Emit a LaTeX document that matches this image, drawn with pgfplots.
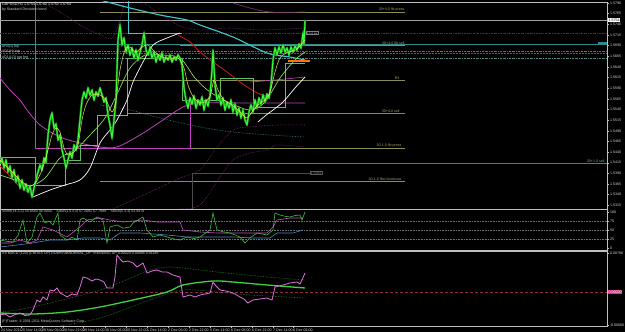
\documentclass[border=0pt]{standalone}
\usepackage{fontspec}
\setmainfont{Liberation Sans}
\usepackage{pgfplots}
\pgfplotsset{compat=1.18}
\definecolor{oliv}{HTML}{8C8C55}
\definecolor{tealx}{HTML}{2E8C8C}
\definecolor{cyanx}{HTML}{40C8D0}
\definecolor{pricegreen}{HTML}{3CFF3C}
\definecolor{pricedark}{HTML}{1E8C1E}
\definecolor{yel}{HTML}{E8E850}
\definecolor{lgreen}{HTML}{90F060}
\definecolor{boxgreen}{HTML}{60C060}
\definecolor{redx}{HTML}{C81E1E}
\definecolor{mag}{HTML}{C040C0}
\definecolor{dpurp}{HTML}{7A2A7A}
\definecolor{gridg}{HTML}{A0A0A0}
\definecolor{stg}{HTML}{40C040}
\definecolor{stm}{HTML}{C050C0}
\definecolor{stb}{HTML}{4A8AC0}
\definecolor{macdm}{HTML}{E070E0}
\definecolor{macdg}{HTML}{40D040}
\definecolor{macdd}{HTML}{2A8A2A}
\definecolor{pinkx}{HTML}{E0308A}
\definecolor{zerol}{HTML}{8A2A48}
\newcommand{\lbl}{\fontsize{3.6}{4}\selectfont}
\pgfplotsset{mt/.style={scale only axis, width=607pt, xmin=0, xmax=607,
  axis line style={draw=white!75!black, line width=0.7pt},
  tick style={draw=white!75!black, line width=0.4pt},
  ytick pos=right, yticklabel pos=right, xtick pos=bottom,
  tick align=outside, major tick length=2pt,
  ticklabel style={font=\lbl, text=white!85!black, inner sep=0.5pt},
  yticklabel style={anchor=west, xshift=0.3pt},
  scaled ticks=false, clip mode=individual}}
\begin{document}
\begin{tikzpicture}
\path[use as bounding box] (0pt,0pt) rectangle (625pt,332pt);
\fill[black] (0pt,0pt) rectangle (625pt,332pt);
% ---------------- main price panel ----------------
\begin{axis}[mt, at={(0pt,123pt)}, anchor=south west, height=207pt,
  ymin=2, ymax=209, y dir=reverse, xtick=\empty,
  ytick={3,13.65,24.3,34.95,45.6,56.25,66.9,77.55,88.2,98.85,109.5,120.15,130.8,141.45,152.1,162.75,173.4,184.05,194.7,205.35},
  yticklabels={1.5790,1.5765,1.5740,1.5715,1.5690,1.5665,1.5640,1.5615,1.5590,1.5565,1.5540,1.5515,1.5490,1.5465,1.5440,1.5415,1.5390,1.5365,1.5340,1.5315}]
% horizontal level lines
\addplot[gridg, line width=0.6pt] coordinates {(0,20) (607,20)};
\addplot[redx!70!black, line width=0.6pt, dash pattern=on 2pt off 1pt on 0.5pt off 1pt] coordinates {(0,33) (607,33)};
\addplot[tealx, line width=0.7pt] coordinates {(0,44) (607,44)};
\addplot[boxgreen!70!black, line width=0.6pt, dash pattern=on 2pt off 1pt on 0.5pt off 1pt] coordinates {(0,51) (607,51)};
\addplot[boxgreen!60!black, line width=0.6pt, dash pattern=on 2pt off 1pt] coordinates {(0,53) (607,53)};
\addplot[tealx!60!gray, line width=0.5pt, dash pattern=on 2pt off 1pt on 0.5pt off 1pt] coordinates {(0,58) (607,58)};
\addplot[tealx, line width=0.7pt] coordinates {(0,163) (607,163)};
\addplot[oliv, line width=0.6pt] coordinates {(100,12) (405,12)};
\addplot[oliv, line width=0.6pt] coordinates {(180,45) (405,45)};
\addplot[oliv, line width=0.6pt] coordinates {(100,80) (405,80)};
\addplot[oliv, line width=0.6pt] coordinates {(128,113) (405,113)};
\addplot[oliv, line width=0.6pt] coordinates {(190,148) (405,148)};
\addplot[oliv, line width=0.6pt] coordinates {(100,181) (405,181)};
\addplot[gray!60!black, line width=0.6pt] coordinates {(192,209) (192,173) (310,173)};
% magenta structure
\addplot[mag, line width=0.8pt] coordinates {(35,0) (35,148) (190,148) (190,100)};
\addplot[mag, line width=0.8pt, smooth] coordinates {(0,78) (10,90) (20,100) (27,110) (40,125) (60,137) (80,143) (100,147) (117,147) (140,135) (160,122) (183,107) (200,103) (250,103) (305,103)};
\addplot[mag, line width=0.6pt, smooth] coordinates {(250,82) (275,80) (305,77)};
% dotted envelopes
\addplot[dpurp, line width=0.6pt, dash pattern=on 0.6pt off 1pt, smooth] coordinates {(38,0) (60,12) (80,25) (100,35) (112,38) (120,20) (125,0)};
\addplot[dpurp, line width=0.6pt, dash pattern=on 0.6pt off 1pt, smooth] coordinates {(140,0) (160,14) (180,26) (200,30) (230,28) (260,30) (305,28)};
\addplot[dpurp, line width=0.7pt, smooth] coordinates {(233,3) (250,8) (270,12) (305,12)};
\addplot[dpurp, line width=0.6pt, dash pattern=on 0.6pt off 1pt, smooth] coordinates {(113,209) (150,192) (180,178) (200,170) (215,150) (233,130) (250,127) (277,125) (305,125)};
\addplot[dpurp, line width=0.6pt, dash pattern=on 0.6pt off 1pt, smooth] coordinates {(180,209) (200,205) (220,177) (233,160) (250,153) (267,150) (277,145) (305,147)};
\addplot[tealx, line width=0.6pt, dash pattern=on 0.6pt off 1pt, smooth] coordinates {(100,105) (130,110) (160,118) (200,127) (233,132) (270,135) (305,137)};
% cyan
\addplot[cyanx, line width=0.8pt] coordinates {(128,0) (128,33) (182,33)};
\addplot[cyanx, line width=1.1pt, smooth] coordinates {(100,0) (130,8) (160,15) (187,20) (200,25) (233,37) (267,53) (290,57) (305,60)};
% red
\addplot[redx, line width=0.8pt, smooth] coordinates {(0,166) (8,174) (16,183) (24,190) (30,193)};
\addplot[redx, line width=0.8pt, smooth] coordinates {(178,35) (190,42) (200,52) (213,62) (227,72) (240,82) (252,90) (262,95) (270,97)};
% boxes (stepped)
\addplot[boxgreen, line width=0.5pt, const plot] coordinates {(0,157) (35,185) (65,160) (80,145) (97,115) (127,58) (182,100) (220,78) (253,107) (285,63) (305,63)};
% white
\addplot[white, line width=0.7pt, smooth] coordinates {(33,197) (50,190) (65,185) (80,180) (90,168) (100,143) (110,130) (117,120) (127,100) (133,82) (143,62) (153,45) (167,38) (180,33)};
\addplot[white, line width=0.7pt, smooth] coordinates {(258,122) (265,116) (273,110) (283,102) (295,88) (305,77)};
% light green MA
\addplot[lgreen, line width=0.6pt, smooth] coordinates {(0,175) (15,180) (30,186) (45,178) (60,158) (75,150) (90,135) (105,118) (118,92) (130,68) (145,55) (160,55) (180,58) (195,78) (210,92) (230,103) (250,110) (265,102) (280,78) (295,60) (305,52)};
% price (dark underlay for bar bodies, then bright close line)
\pgfplotstableread{
x y
0 163
2 158
4 168
6 160
8 172
10 166
12 178
14 170
16 182
18 176
20 188
22 180
24 190
26 184
28 192
30 186
32 197
34 188
36 180
38 172
40 165
42 170
44 158
46 162
48 135
50 120
52 113
54 128
56 124
58 140
60 135
62 150
64 158
66 168
68 160
70 152
72 158
74 145
76 150
78 140
80 120
82 100
84 92
86 98
88 88
90 95
92 90
94 100
96 92
98 96
100 88
102 95
104 102
106 98
108 115
110 125
112 138
114 120
116 100
118 40
120 25
122 45
124 38
126 52
128 45
130 55
132 48
134 58
136 50
138 60
140 52
142 45
144 33
146 50
148 55
150 48
152 58
154 52
156 62
158 55
160 60
162 53
164 62
166 57
168 60
170 55
172 62
174 57
176 60
178 55
180 58
182 65
184 88
186 100
188 108
190 98
192 104
194 96
196 108
198 100
200 105
202 97
204 110
206 100
208 106
210 96
212 70
213 50
215 85
217 100
219 95
221 105
223 98
225 110
227 102
229 108
231 100
233 112
235 104
237 115
239 108
241 118
243 110
245 120
247 125
249 112
251 105
253 112
255 100
257 108
259 98
261 104
263 95
265 102
267 94
269 98
271 85
273 60
275 48
277 55
279 47
281 53
283 45
285 52
287 48
289 55
291 47
293 52
295 46
297 50
299 44
301 48
303 33
304 45
305 20
}\pricetab
\addplot[pricedark, line width=2.2pt, line join=round] table[x=x,y=y] {\pricetab};
\addplot[pricegreen, line width=0.9pt] table[x=x,y=y] {\pricetab};
% yellow fast MA
\addplot[yel, line width=0.5pt, smooth] coordinates {(0,160) (8,168) (15,175) (22,182) (30,186) (36,182) (42,170) (48,150) (52,135) (56,128) (60,132) (64,148) (68,155) (74,152) (78,145) (82,120) (86,105) (92,95) (100,95) (106,100) (112,112) (116,100) (120,70) (125,50) (130,47) (136,52) (142,47) (148,45) (155,52) (162,57) (170,59) (178,58) (184,68) (188,85) (194,98) (202,103) (210,96) (214,80) (218,90) (224,100) (232,105) (240,112) (247,118) (252,112) (258,105) (265,100) (270,92) (275,72) (280,58) (288,52) (296,50) (305,40)};
% orange marker bar
\addplot[orange!90!red, line width=2.4pt] coordinates {(288,61) (310,61)};
% texts
\node[anchor=north west, font=\lbl, text=white, inner sep=0] at (axis cs:2,3) {GBPUSD,H1 1.5754 1.5762 1.5752 1.5754};
\node[anchor=north west, font=\lbl, text=white!80!black, inner sep=0] at (axis cs:2,8) {by Standard Deviation band};
\node[anchor=west, font=\lbl, text=white!80!black, inner sep=0] at (axis cs:2,47) {\#H4(1) top};
\node[anchor=west, font=\lbl, text=white!80!black, inner sep=0] at (axis cs:2,52) {\#D1(H) top};
\node[anchor=west, font=\lbl, text=white!80!black, inner sep=0] at (axis cs:2,57.5) {\#D1(LO) top fmt};
\node[anchor=south east, font=\lbl, text=oliv!80!white, inner sep=0.3pt] at (axis cs:405,12) {30+4.0 fib press};
\node[anchor=south east, font=\lbl, text=oliv!80!white, inner sep=0.3pt] at (axis cs:405,45) {30+4.0 fib sell};
\node[anchor=south east, font=\lbl, text=oliv!80!white, inner sep=0.3pt] at (axis cs:400,80) {R3};
\node[anchor=south east, font=\lbl, text=oliv!80!white, inner sep=0.3pt] at (axis cs:400,113) {30+4.0 sell};
\node[anchor=south east, font=\lbl, text=oliv!80!white, inner sep=0.3pt] at (axis cs:402,148) {30-1.0 fib press};
\node[anchor=south east, font=\lbl, text=oliv!80!white, inner sep=0.3pt] at (axis cs:402,181) {30-1.0 fibo fondonas};
\node[anchor=south east, font=\lbl, text=tealx!70!white, inner sep=0.3pt] at (axis cs:605,163) {30+1.0 sell};
\node[anchor=west, font=\lbl, text=gray, draw=gray, inner sep=0.4pt] at (axis cs:306,33) {1.5722};
\node[anchor=west, font=\lbl, text=gray, draw=gray!70!black, inner sep=0.4pt] at (axis cs:310,173) {1.5381};
\node[anchor=east, fill=tealx, minimum width=9pt, minimum height=3pt, inner sep=0] at (axis cs:607,44) {};
\node[anchor=west, font=\lbl, fill=white, text=black, inner sep=0.4pt] at (axis cs:608,20) {1.5754};
\end{axis}
% ---------------- stochastic panel ----------------
\begin{axis}[mt, at={(0pt,82pt)}, anchor=south west, height=41pt,
  ymin=-5.56, ymax=108.3, xtick=\empty,
  ytick={100,75,50,25,0}, yticklabels={100,75,50,25,0}]
\addplot[gridg!70!black, line width=0.5pt, dash pattern=on 0.6pt off 1pt] coordinates {(0,75) (607,75)};
\addplot[gridg!70!black, line width=0.5pt, dash pattern=on 0.6pt off 1pt] coordinates {(0,50) (607,50)};
\addplot[gridg!70!black, line width=0.5pt, dash pattern=on 0.6pt off 1pt] coordinates {(0,25) (607,25)};
\addplot[stb, line width=0.6pt] coordinates {(0,2.8) (17,8.3) (33,13.9) (50,22.2) (67,22.2) (83,27.8) (100,27.8) (110,22.2) (120,41.7) (140,41.7) (167,36.1) (187,30.6) (207,30.6) (233,30.6) (253,27.8) (270,27.8) (277,41.7) (293,41.7) (303,50.0)};
\addplot[stm, line width=0.6pt] coordinates {(0,13.9) (10,13.9) (20,22.2) (30,13.9) (37,22.2) (43,58.3) (53,50.0) (67,30.6) (80,58.3) (87,77.8) (100,83.3) (110,77.8) (123,72.2) (143,77.8) (157,72.2) (180,72.2) (183,50.0) (200,44.4) (217,41.7) (233,41.7) (250,41.7) (267,41.7) (273,58.3) (277,77.8) (290,83.3) (303,83.3)};
\addplot[stg, line width=0.6pt] coordinates {(0,22.2) (6,19) (13,16.7) (18,35) (23,77.8) (27,13.9) (32,30) (37,86.1) (40,97.2) (45,69.4) (49,75) (53,63.9) (58,97.2) (60,36.1) (64,28) (67,22.2) (72,30) (77,22.2) (80,77.8) (83,83.3) (90,72.2) (94,80) (97,86.1) (103,77.8) (107,13.9) (110,58.3) (117,63.9) (123,55) (130,58.3) (133,69.4) (143,86.1) (147,50.0) (153,30.6) (160,36) (167,30.6) (174,25) (180,22.2) (187,30.6) (194,26) (200,30.6) (210,50.0) (213,97.2) (217,50.0) (223,45) (230,41.7) (240,30.6) (245,13.9) (250,27.8) (257,41.7) (267,36.1) (273,50.0) (275,97.2) (280,91.7) (285,88) (290,86.1) (295,90) (300,91.7) (302,77.8) (305,100)};
\node[anchor=north west, font=\lbl, text=white!80!black, inner sep=0] at (axis cs:2,106) {Stoch(14,3,3) 54.8560 46.0000 \quad Stoch(14,3,3) 57.2091 57.7999 \quad Stoch(5,3,3) 53.9476};
\end{axis}
% ---------------- MACD panel ----------------
\begin{axis}[mt, at={(0pt,6pt)}, anchor=south west, height=75pt,
  ymin=-0.0068, ymax=0.0082,
  ytick={0.0078,-0.0066}, yticklabels={0.00780,-0.00660},
  xtick={1,21,42,63,83,105,126,147,168,189,210,231,252,273,293},
  xticklabels={24 Nov 2011,25 Nov 14:00,28 Nov 06:00,28 Nov 22:00,29 Nov 14:00,30 Nov 06:00,30 Nov 22:00,1 Dec 14:00,2 Dec 06:00,2 Dec 22:00,5 Dec 14:00,6 Dec 06:00,6 Dec 22:00,7 Dec 14:00,8 Dec 06:00},
  xticklabel style={anchor=north west, xshift=-0.5pt}]
\addplot[zerol, line width=0.6pt, dash pattern=on 3pt off 2pt] coordinates {(0,0) (607,0)};
\addplot[macdd, line width=0.6pt, dash pattern=on 0.6pt off 1pt, smooth] coordinates {(0,-0.0040) (17,-0.0036) (50,-0.0022) (100,0.0004) (133,0.0030) (150,0.0044) (167,0.0050) (183,0.0048) (217,0.0040) (267,0.0030) (305,0.0024)};
\addplot[macdd, line width=0.6pt, dash pattern=on 0.6pt off 1pt, smooth] coordinates {(60,-0.0068) (100,-0.0052) (150,-0.0016) (183,0.0004) (217,0.0000) (250,-0.0006) (305,-0.0012)};
\addplot[macdg, line width=1.3pt, smooth] coordinates {(0,-0.0042) (33,-0.0044) (67,-0.0040) (100,-0.0030) (133,-0.0016) (167,0.0000) (183,0.0014) (213,0.0022) (233,0.0020) (267,0.0014) (305,0.0008)};
\addplot[macdm, line width=0.8pt] coordinates {(0,-0.0046) (5,-0.0044) (10,-0.0050) (15,-0.0045) (20,-0.0042) (25,-0.0047) (30,-0.0046) (33,-0.0036) (37,-0.0016) (40,-0.0020) (43,-0.0010) (47,-0.0016) (50,0.0004) (54,0.0002) (57,0.0008) (60,-0.0002) (64,-0.0006) (67,-0.0010) (72,-0.0004) (77,-0.0006) (80,0.0010) (83,0.0030) (87,0.0028) (92,0.0022) (96,0.0026) (100,0.0024) (104,0.0020) (107,0.0008) (113,0.0008) (115,0.0030) (117,0.0074) (120,0.0066) (123,0.0060) (128,0.0062) (133,0.0058) (137,0.0050) (140,0.0054) (143,0.0058) (147,0.0038) (152,0.0042) (157,0.0044) (162,0.0040) (167,0.0040) (173,0.0034) (180,0.0030) (183,-0.0010) (190,-0.0006) (195,-0.0010) (200,-0.0006) (205,-0.0004) (210,-0.0002) (213,0.0020) (216,0.0012) (220,0.0004) (226,0.0002) (233,-0.0002) (240,-0.0010) (244,-0.0014) (248,-0.0022) (253,-0.0016) (260,-0.0014) (267,-0.0012) (272,-0.0016) (275,0.0010) (279,0.0012) (283,0.0014) (290,0.0018) (297,0.0020) (300,0.0016) (302,0.0024) (305,0.0038)};
\node[anchor=north west, font=\lbl, text=white!80!black, inner sep=0] at (axis cs:2,0.0080) {XS MACD (120) (CROSS UP) DOWN UBNORMAL\_UP TRENDING UP 0.00024 0.00085 0.01185};
\node[anchor=west, font=\lbl, text=white!80!black, inner sep=0] at (axis cs:2,-0.0060) {(P)Trader, \textcopyright\ 2001-2011 MetaQuotes Software Corp.};
\node[anchor=west, font=\lbl, fill=pinkx, text=white, inner sep=0.4pt] at (axis cs:608,0) {0.00000};
\end{axis}
\end{tikzpicture}
\end{document}
